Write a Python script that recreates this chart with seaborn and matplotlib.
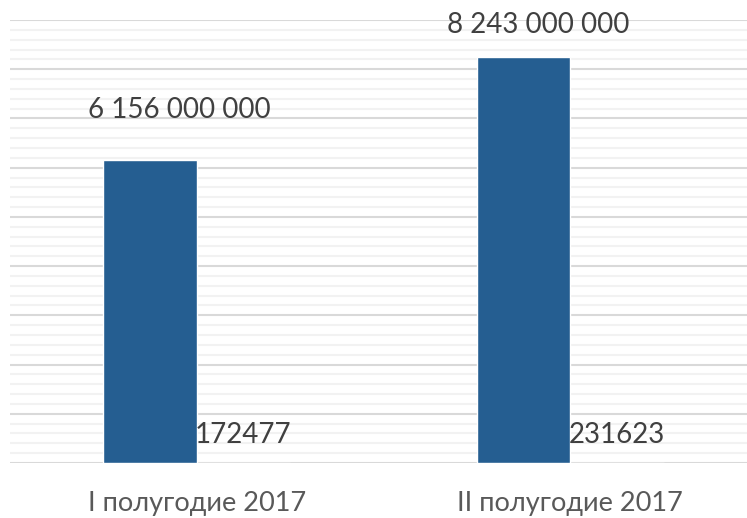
import matplotlib
matplotlib.use("Agg")
import matplotlib.pyplot as plt
import seaborn as sns
import pandas as pd
from matplotlib.ticker import MultipleLocator

# Half-year totals (main series) and counts (second series)
periods = ["I полугодие 2017", "II полугодие 2017"]
amounts = [6156000000, 8243000000]
counts = [172477, 231623]

BAR_BLUE = "#255E91"
TEXT_DARK = "#404040"
AXIS_TEXT = "#595959"
FONT = ["Lato", "Open Sans", "DejaVu Sans"]

df = pd.DataFrame({
    "period": periods * 2,
    "value": amounts + counts,
    "series": ["amount"] * len(periods) + ["count"] * len(periods),
})

sns.set_theme(style="white")
plt.rcParams["font.family"] = FONT

fig = plt.figure(figsize=(7.47, 5.18), dpi=100)
ax = fig.add_axes([10 / 747, 55 / 518, 747 / 747, 443 / 518])

sns.barplot(data=df, x="period", y="value", hue="series",
            palette=[BAR_BLUE, "#ED7D31"], width=0.5, saturation=1,
            dodge=True, legend=False, ax=ax, zorder=3)

ax.set_xlim(-0.5, 1.5)
ax.set_ylim(0, 9e9)
ax.yaxis.set_major_locator(MultipleLocator(1e9))
ax.yaxis.set_minor_locator(MultipleLocator(2e8))
ax.grid(which="major", axis="y", color="#D9D9D9", linewidth=1.5, zorder=1)
ax.grid(which="minor", axis="y", color="#F2F2F2", linewidth=1.5, zorder=0)
ax.set_axisbelow(True)
ax.tick_params(axis="both", which="both", length=0)
ax.tick_params(axis="y", labelleft=False)
ax.tick_params(axis="x", pad=20, labelsize=19.5, labelcolor=AXIS_TEXT)
for lbl in ax.get_xticklabels():
    lbl.set_family(FONT)
ax.set_xlabel("")
ax.set_ylabel("")
for side in ["top", "right", "left", "bottom"]:
    ax.spines[side].set_visible(False)

# Amount labels above the blue bars
amount_offsets = [(29, 42), (15, 24)]
for bar, val, (dx, dy) in zip(ax.containers[0], amounts, amount_offsets):
    text = f"{val:,}".replace(",", " ")
    ax.annotate(text, (bar.get_x() + bar.get_width() / 2, bar.get_height()),
                xytext=(dx, dy), textcoords="offset pixels",
                ha="center", va="baseline", fontsize=20, color=TEXT_DARK,
                family=FONT)

# Count labels at the base of the second series
for bar, val in zip(ax.containers[1], counts):
    ax.annotate(str(val), (bar.get_x() + bar.get_width() / 2, 0),
                xytext=(0, 20), textcoords="offset pixels",
                ha="center", va="baseline", fontsize=20, color=TEXT_DARK,
                family=FONT)

fig.savefig("out.png", dpi=100)
